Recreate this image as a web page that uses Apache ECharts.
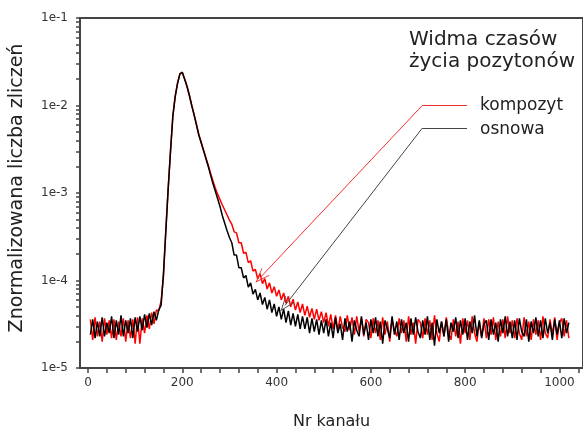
<!DOCTYPE html>
<html>
<head>
<meta charset="utf-8">
<script src="https://cdn.jsdelivr.net/npm/echarts@6/dist/echarts.min.js"></script>
<style>html,body{margin:0;padding:0;background:#fff;}#c{width:583px;height:435px;}</style>
</head>
<body>
<div id="c"></div>
<script>
// ---- data (values in units of 1e-5, channels start at 5, step 5) ----
const CH_START = 5;
const CH_STEP = 5;
const UNIT = 1e-5;

const kompozyt = [
  3.6, 2.1, 3.8, 2.3, 3.4, 2.0, 3.7, 2.4, 3.5, 2.2,
  3.6, 2.1, 3.4, 2.3, 3.7, 2.0, 3.5, 2.2, 3.6, 1.9,
  3.8, 1.9, 3.7, 2.5, 4.0, 2.8, 4.3, 3.2, 4.6, 4.5,
  5.8, 11, 37, 112, 305, 765, 1280, 1810, 2310, 2400,
  2010, 1660, 1310, 1010, 790, 610, 468, 382, 312, 255,
  208, 168, 138, 114, 97, 84, 73, 64, 56, 49,
  44, 36, 35, 27, 27, 20.5, 21, 16, 16.8, 12.8,
  13.4, 10.4, 12.0, 9.2, 10.5, 8.0, 9.4, 7.2, 8.5, 6.6,
  7.8, 6.0, 7.2, 5.5, 6.6, 5.0, 6.1, 4.6, 5.7, 4.3,
  5.4, 4.0, 5.1, 3.8, 4.8, 3.6, 4.7, 3.5, 4.4, 3.3,
  4.3, 3.0, 4.1, 2.8, 4.0, 2.7, 3.9, 2.9, 2.6, 4.0,
  2.7, 3.8, 2.4, 3.9, 2.6, 3.7, 2.3, 3.6, 3.3, 2.2,
  3.7, 2.5, 3.5, 2.1, 3.8, 2.4, 3.4, 2.0, 3.6, 2.7,
  2.3, 3.7, 2.5, 3.5, 2.0, 3.9, 2.4, 3.3, 1.9, 3.6,
  3.3, 2.2, 3.7, 2.4, 3.5, 2.1, 4.0, 2.5, 2.0, 3.4,
  2.3, 3.8, 2.5, 2.1, 3.6, 2.3, 3.4, 1.9, 3.7, 2.5,
  3.5, 2.1, 3.9, 2.5, 2.0, 3.4, 2.3, 3.7, 2.2, 3.6,
  2.4, 3.8, 2.1, 3.4, 2.3, 3.6, 2.2, 3.9, 2.5, 3.5,
  2.2, 3.7, 2.5, 2.1, 3.8, 2.3, 3.4, 2.1, 3.6, 2.4,
  3.5, 2.1, 3.9, 2.5, 2.2, 3.6, 2.4, 3.8, 2.1, 3.3,
  3.7, 2.3, 3.5, 2.2
];

const osnowa = [
  2.4, 3.6, 2.2, 3.4, 2.3, 3.8, 2.3, 3.3, 2.5, 3.9,
  2.2, 3.5, 2.4, 4.0, 2.3, 3.5, 2.5, 3.7, 2.2, 3.8,
  2.6, 3.9, 2.7, 4.1, 2.9, 4.2, 3.1, 4.4, 3.5, 4.6,
  5.2, 12, 36, 110, 300, 760, 1270, 1800, 2300, 2390,
  2000, 1650, 1300, 1000, 780, 600, 460, 375, 305, 248,
  202, 160, 128, 105, 86, 70, 55, 45, 37, 31,
  27, 19.5, 19.5, 14, 14, 10.7, 11.4, 8.4, 9.4, 7.0,
  7.9, 6.0, 7.2, 5.3, 6.4, 4.7, 6.0, 4.3, 5.4, 3.9,
  5.0, 3.6, 4.7, 3.3, 4.5, 3.1, 4.2, 3.0, 4.1, 2.8,
  3.9, 2.8, 3.8, 2.5, 3.7, 2.6, 3.6, 2.4, 3.5, 2.5,
  3.6, 2.3, 3.3, 2.2, 3.8, 2.5, 3.2, 2.1, 3.7, 2.6,
  3.4, 2.0, 3.5, 2.7, 2.3, 3.9, 2.4, 3.3, 2.1, 3.6,
  2.5, 3.8, 2.3, 3.4, 1.9, 3.5, 2.8, 2.2, 3.9, 2.4,
  3.4, 2.1, 3.6, 2.5, 3.3, 2.0, 3.7, 2.4, 3.8, 2.6,
  2.2, 3.5, 2.4, 3.9, 2.1, 3.3, 1.8, 3.6, 2.5, 3.4,
  2.3, 3.6, 2.0, 3.3, 2.6, 3.8, 2.2, 3.5, 2.4, 3.7,
  2.1, 3.4, 2.5, 4.0, 2.3, 3.5, 2.2, 3.2, 3.5, 2.1,
  3.6, 2.4, 3.3, 2.0, 3.6, 2.5, 3.9, 2.3, 3.4, 2.2,
  3.5, 2.1, 3.7, 2.6, 2.3, 3.6, 2.0, 3.4, 2.5, 3.8,
  2.3, 3.5, 2.2, 3.7, 2.5, 3.3, 2.1, 3.6, 2.4, 3.5,
  2.2, 3.7, 2.5, 3.3
];

const xTickLabels = [0, 200, 400, 600, 800, 1000];
const xMinorTicks = [0, 40, 80, 120, 160, 200, 240, 280, 320, 360, 400, 440, 480, 520, 560, 600, 640, 680, 720, 760, 800, 840, 880, 920, 960, 1000, 1040];
const yTickLabels = [1e-5, 1e-4, 1e-3, 1e-2, 1e-1];
const yMinorTicks = [
  1e-5, 2e-5, 3e-5, 4e-5, 5e-5, 6e-5, 7e-5, 8e-5, 9e-5,
  1e-4, 2e-4, 3e-4, 4e-4, 5e-4, 6e-4, 7e-4, 8e-4, 9e-4,
  1e-3, 2e-3, 3e-3, 4e-3, 5e-3, 6e-3, 7e-3, 8e-3, 9e-3,
  1e-2, 2e-2, 3e-2, 4e-2, 5e-2, 6e-2, 7e-2, 8e-2, 9e-2, 1e-1
];

// annotation arrows (data-space coordinates: [channel, value])
const arrowKompozyt = { legendEnd: [804, 1e-2], corner: [709, 1e-2], tip: [366, 1.09e-4] };
const arrowOsnowa = { legendEnd: [804, 5.5e-3], corner: [709, 5.5e-3], tip: [418, 5.2e-5] };

const toPairs = arr => arr.map((v, i) => [CH_START + i * CH_STEP, v * UNIT]);

const FONT = 'DejaVu Sans';
const AXIS_COLOR = '#444';
const chevron = 'path://M0,0 L6,14 L5,14 L0,2.5 L-5,14 L-6,14 Z';

function arrowLines(a, color) {
  return {
    silent: true,
    animation: false,
    symbol: ['none', 'none'],
    label: { show: false },
    emphasis: { disabled: true },
    lineStyle: { color: color, width: 1, type: 'solid' },
    data: [
      [{ coord: a.legendEnd, symbol: 'none' }, { coord: a.corner, symbol: 'none' }],
      [{ coord: a.corner, symbol: 'none' }, { coord: a.tip, symbol: chevron, symbolSize: [11, 15] }]
    ]
  };
}

const chart = echarts.init(document.getElementById('c'), null, { renderer: 'canvas' });
chart.setOption({
  animation: false,
  backgroundColor: '#fff',
  grid: {
    left: 80, top: 18, right: -4, bottom: 61,
    show: true, borderColor: AXIS_COLOR, borderWidth: 2, backgroundColor: 'transparent'
  },
  xAxis: {
    type: 'value', min: -17, max: 1050,
    axisLine: { show: true, onZero: false, lineStyle: { color: AXIS_COLOR, width: 2 } },
    axisTick: { show: true, inside: false, length: 5, customValues: xMinorTicks, lineStyle: { color: AXIS_COLOR, width: 1.5 } },
    axisLabel: { customValues: xTickLabels, fontFamily: FONT, fontSize: 12, color: '#333', margin: 9, formatter: v => String(v) },
    splitLine: { show: false },
    name: 'Nr kanału', nameLocation: 'middle', nameGap: 46,
    nameTextStyle: { fontFamily: FONT, fontSize: 16, color: '#222' }
  },
  yAxis: {
    type: 'log', logBase: 10, min: 1e-5, max: 1e-1,
    axisLine: { show: true, onZero: false, lineStyle: { color: AXIS_COLOR, width: 2 } },
    axisTick: { show: true, inside: false, length: 4, customValues: yMinorTicks, lineStyle: { color: AXIS_COLOR, width: 1.5 } },
    axisLabel: {
      customValues: yTickLabels, fontFamily: FONT, fontSize: 12, color: '#333', margin: 12,
      formatter: v => '1e' + Math.round(Math.log10(v))
    },
    splitLine: { show: false },
    minorTick: { show: false }
  },
  series: [
    {
      name: 'kompozyt', type: 'line', data: toPairs(kompozyt), showSymbol: false,
      lineStyle: { color: '#ff0000', width: 1.5 }, itemStyle: { color: '#ff0000' },
      z: 2, markLine: arrowLines(arrowKompozyt, '#f03030')
    },
    {
      name: 'osnowa', type: 'line', data: toPairs(osnowa), showSymbol: false,
      lineStyle: { color: '#000000', width: 1.5 }, itemStyle: { color: '#000000' },
      z: 3, markLine: arrowLines(arrowOsnowa, '#444444')
    }
  ],
  graphic: [
    {
      type: 'text', x: 17, y: 188, rotation: Math.PI / 2, silent: true,
      style: { text: 'Znormalizowana liczba zliczeń', font: '19px "DejaVu Sans"', fill: '#222', align: 'center', verticalAlign: 'middle' }
    },
    {
      type: 'text', left: 409, top: 29, silent: true,
      style: { text: 'Widma czasów\nżycia pozytonów', font: '20px "DejaVu Sans"', fill: '#222', lineHeight: 22 }
    },
    {
      type: 'text', x: 480, y: 106, silent: true,
      style: { text: 'kompozyt', font: '17px "DejaVu Sans"', fill: '#222', verticalAlign: 'middle' }
    },
    {
      type: 'text', x: 480, y: 130, silent: true,
      style: { text: 'osnowa', font: '17px "DejaVu Sans"', fill: '#222', verticalAlign: 'middle' }
    }
  ]
});
</script>
</body>
</html>
